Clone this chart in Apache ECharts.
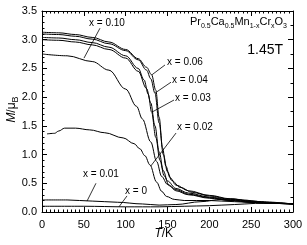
<!DOCTYPE html>
<html><head><meta charset="utf-8">
<script src="https://cdn.jsdelivr.net/npm/echarts@6/dist/echarts.min.js"></script>
<style>html,body{margin:0;padding:0;background:#fff}#c{width:307px;height:245px}</style>
</head><body><div id="c"></div>
<script>
// ---- data (T in K, M in μB) ----
const xTicks = [0, 50, 100, 150, 200, 250, 300];
const yTicks = [0.0, 0.5, 1.0, 1.5, 2.0, 2.5, 3.0, 3.5];

const T_x006 = [1, 20, 40, 60, 80, 100, 115, 125, 131, 136, 140, 144, 148, 153, 160, 175, 200, 225, 250, 275, 300];
const M_x006 = [3.13, 3.12, 3.09, 3.04, 2.96, 2.83, 2.67, 2.52, 2.39, 2.12, 1.65, 1.12, 0.80, 0.60, 0.47, 0.37, 0.29, 0.23, 0.19, 0.16, 0.14];

const T_x004 = [1, 20, 40, 60, 80, 100, 115, 125, 130, 135, 140, 145, 150, 155, 165, 180, 200, 225, 250, 275, 300];
const M_x004 = [3.10, 3.09, 3.06, 3.01, 2.93, 2.81, 2.65, 2.47, 2.32, 2.07, 1.55, 1.00, 0.70, 0.55, 0.43, 0.34, 0.28, 0.22, 0.19, 0.16, 0.14];

const T_x003 = [1, 20, 40, 60, 80, 100, 115, 122, 127, 131, 136, 141, 146, 152, 160, 175, 200, 225, 250, 275, 300];
const M_x003 = [3.04, 3.03, 3.00, 2.95, 2.87, 2.72, 2.50, 2.30, 2.05, 1.74, 1.30, 0.90, 0.63, 0.46, 0.37, 0.30, 0.24, 0.20, 0.17, 0.15, 0.14];

const T_xu = [1, 20, 40, 60, 80, 100, 115, 125, 130, 135, 140, 145, 150, 160, 175, 200, 225, 250, 275, 300];
const M_xu = [3.00, 2.99, 2.96, 2.91, 2.83, 2.68, 2.45, 2.15, 1.90, 1.50, 1.05, 0.72, 0.54, 0.41, 0.33, 0.26, 0.21, 0.18, 0.15, 0.14];

const T_x010 = [1, 30, 60, 80, 100, 113, 120, 130, 137, 143, 150, 160, 175, 200, 225, 250, 275, 300];
const M_x010 = [2.75, 2.72, 2.62, 2.47, 2.14, 1.84, 1.62, 1.22, 0.88, 0.62, 0.48, 0.39, 0.31, 0.25, 0.20, 0.17, 0.15, 0.14];

const T_x002 = [6, 15, 20, 27, 40, 57, 75, 97, 110, 117, 123, 129, 137, 143, 149, 158, 170, 200, 230, 260, 300];
const M_x002 = [1.36, 1.37, 1.41, 1.46, 1.46, 1.43, 1.38, 1.29, 1.19, 1.10, 0.98, 0.82, 0.52, 0.36, 0.27, 0.22, 0.20, 0.20, 0.18, 0.16, 0.14];

const T_x001 = [1, 30, 60, 90, 120, 140, 160, 190, 215, 228, 240, 260, 300];
const M_x001 = [0.21, 0.21, 0.19, 0.17, 0.14, 0.12, 0.13, 0.18, 0.22, 0.23, 0.21, 0.18, 0.14];

const T_x000 = [1, 50, 100, 140, 170, 200, 230, 255, 275, 300];
const M_x000 = [0.10, 0.10, 0.09, 0.09, 0.10, 0.11, 0.13, 0.15, 0.15, 0.14];

const seriesNames = ['x = 0.06', 'x = 0.04', 'x = 0.03', '', 'x = 0.10', 'x = 0.02', 'x = 0.01', 'x = 0'];
const seriesT = [T_x006, T_x004, T_x003, T_xu, T_x010, T_x002, T_x001, T_x000];
const seriesM = [M_x006, M_x004, M_x003, M_xu, M_x010, M_x002, M_x001, M_x000];

const fieldLabel = '1.45T';
// formula parts: [text, isSubscript]
const formulaParts = [['Pr', 0], ['0.5', 1], ['Ca', 0], ['0.5', 1], ['Mn', 0], ['1-x', 1], ['Cr', 0], ['x', 1], ['O', 0], ['3', 1]];

// annotations: label anchor (T, M) and pointer line (T, M) -> (T, M)
const annLabels = ['x = 0.10', 'x = 0.06', 'x = 0.04', 'x = 0.03', 'x = 0.02', 'x = 0.01', 'x = 0'];
const annText   = [[56.2, 3.29], [149.4, 2.61], [155.4, 2.30], [159.0, 1.985], [161.3, 1.48], [49.0, 0.66], [99.2, 0.366]];
const annFrom   = [[69.3, 3.20], [147.0, 2.56], [154.2, 2.26], [157.8, 1.95], [160.2, 1.375], [64.5, 0.50], [101.6, 0.28]];
const annTo     = [[50.2, 2.68], [131.5, 2.39], [135.0, 2.07], [131.5, 1.74], [130.0, 0.80], [53.8, 0.19], [92.0, 0.09]];

(function () {
const FONT = '"Liberation Sans", Arial, Helvetica, sans-serif';
const chart = echarts.init(document.getElementById('c'), null, {renderer: 'canvas'});
const black = '#000';
const mctx = document.createElement('canvas').getContext('2d');
function textW(str, font) { mctx.font = font; return mctx.measureText(str).width; }

function axisCommon(extra) {
  return Object.assign({
    type: 'value',
    axisLine: {show: true, onZero: false, lineStyle: {color: black, width: 1}},
    axisTick: {show: true, inside: true, length: 5, lineStyle: {color: black, width: 1}},
    minorTick: {show: true, length: 2.5, lineStyle: {color: black, width: 1}},
    splitLine: {show: false},
    axisLabel: {color: black, fontSize: 11, fontFamily: FONT}
  }, extra);
}
const series = seriesT.map((T, i) => ({
  type: 'line',
  name: seriesNames[i],
  data: T.map((t, j) => [t, seriesM[i][j]]),
  showSymbol: false,
  smooth: 0.35,
  smoothMonotone: 'x',
  lineStyle: {color: black, width: 1},
  itemStyle: {color: black},
  silent: true,
  animation: false
}));

chart.setOption({
  animation: false,
  backgroundColor: '#fff',
  grid: {left: 42, right: 14, top: 11, bottom: 33, containLabel: false},
  xAxis: [
    axisCommon({min: xTicks[0], max: xTicks[xTicks.length - 1], interval: 50, position: 'bottom',
      minorTick: {show: true, splitNumber: 10, length: 2.5, lineStyle: {color: black, width: 1}},
      axisLabel: {color: black, fontSize: 11, fontFamily: FONT, margin: 7}}),
    axisCommon({min: xTicks[0], max: xTicks[xTicks.length - 1], interval: 50, position: 'top',
      minorTick: {show: true, splitNumber: 10, length: 2.5, lineStyle: {color: black, width: 1}},
      axisLabel: {show: false}})
  ],
  yAxis: [
    axisCommon({min: yTicks[0], max: yTicks[yTicks.length - 1], interval: 0.5, position: 'left',
      minorTick: {show: true, splitNumber: 5, length: 2.5, lineStyle: {color: black, width: 1}},
      axisLabel: {color: black, fontSize: 11, fontFamily: FONT, margin: 5, formatter: v => v.toFixed(1)}}),
    axisCommon({min: yTicks[0], max: yTicks[yTicks.length - 1], interval: 0.5, position: 'right',
      minorTick: {show: true, splitNumber: 2, length: 2.5, lineStyle: {color: black, width: 1}},
      axisLabel: {show: false}})
  ],
  series: series
});

const px = p => chart.convertToPixel({gridIndex: 0}, p);
const graphics = [];
annLabels.forEach((lab, i) => {
  const a = px(annText[i]);
  graphics.push({type: 'text', silent: true, style: {text: lab, x: a[0], y: a[1], fill: black,
    font: '10px ' + FONT, align: 'left', verticalAlign: 'middle'}});
  const f = px(annFrom[i]), t = px(annTo[i]);
  graphics.push({type: 'line', silent: true, shape: {x1: f[0], y1: f[1], x2: t[0], y2: t[1]},
    style: {stroke: black, lineWidth: 0.8}});
});

// build text with subscripts as a row of text pieces (left-aligned from 0)
function subscriptRow(parts, mainFont, subFont, subDrop) {
  const els = [];
  let x = 0;
  parts.forEach(p => {
    const font = p[1] ? subFont : mainFont;
    els.push({type: 'text', silent: true, style: {text: p[0], x: x, y: p[1] ? subDrop : 0, font: font, fill: black,
      align: 'left', verticalAlign: 'middle'}});
    x += textW(p[0], font);
  });
  return {els: els, width: x};
}

const p00 = px([xTicks[0], yTicks[0]]);
const p11 = px([xTicks[xTicks.length - 1], yTicks[yTicks.length - 1]]);
const gLeft = p00[0], gBottom = p00[1], gRight = p11[0], gTop = p11[1];

const formula = subscriptRow(formulaParts, '11px ' + FONT, '7px ' + FONT, 4);
graphics.push({type: 'group', x: gRight - 6 - formula.width, y: gTop + 11, children: formula.els});

graphics.push({type: 'text', silent: true, style: {
  text: fieldLabel, x: gRight - 10, y: gTop + 39, align: 'right', verticalAlign: 'middle', fill: black,
  font: '14px ' + FONT}});

// x axis title
const xt = subscriptRow([['T', 0], ['/K', 0]], '12px ' + FONT, '12px ' + FONT, 0);
xt.els[0].style.font = 'italic 12px ' + FONT;
const xtW = textW('T', 'italic 12px ' + FONT) + textW('/K', '12px ' + FONT);
xt.els[1].style.x = textW('T', 'italic 12px ' + FONT);
graphics.push({type: 'group', x: gLeft + (gRight - gLeft) * 0.485 - xtW / 2, y: gBottom + 22, children: xt.els});

// y axis title (rotated)
const yParts = [['M', 0], ['/μ', 0], ['B', 1]];
const yt = subscriptRow(yParts, '12px ' + FONT, '9px ' + FONT, 4);
yt.els[0].style.font = 'italic 12px ' + FONT;
let xx = 0;
const fonts = ['italic 12px ' + FONT, '12px ' + FONT, '9px ' + FONT];
yParts.forEach((p, i) => { yt.els[i].style.x = xx; xx += textW(p[0], fonts[i]); });
graphics.push({type: 'group', x: 12, y: (gTop + gBottom) / 2 + xx / 2 - 2, rotation: Math.PI / 2, children: yt.els});

chart.setOption({graphic: graphics});
})();
</script>
</body></html>
